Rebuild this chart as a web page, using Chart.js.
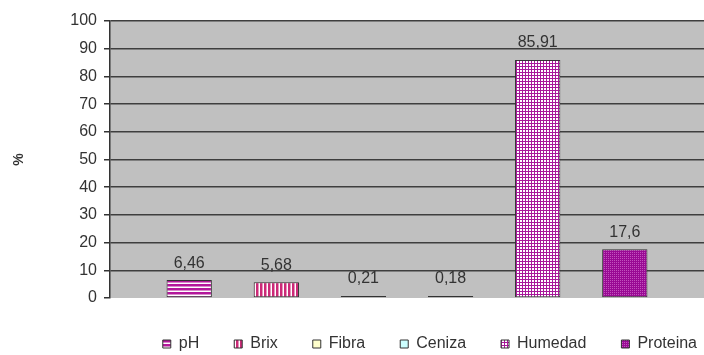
<!DOCTYPE html>
<html>
<head>
<meta charset="utf-8">
<title>Composición</title>
<script src="https://cdn.jsdelivr.net/npm/chart.js@4.4.1/dist/chart.umd.min.js"></script>
<style>
  html, body { margin: 0; padding: 0; background: #ffffff; overflow: hidden; }
  #chart { display: block; }
</style>
</head>
<body>
<canvas id="chart" width="704" height="355"></canvas>
<script>
// Componentes medidos y sus valores (%)
const componentes = ['pH', 'Brix', 'Fibra', 'Ceniza', 'Humedad', 'Proteina'];
const valores = [6.46, 5.68, 0.21, 0.18, 85.91, 17.6];
const ejeY = { min: 0, max: 100, paso: 10 };
const tituloY = '%';

// Tramas de relleno para cada serie
function trama(size, draw) {
  const c = document.createElement('canvas');
  c.width = size; c.height = size;
  const g = c.getContext('2d');
  draw(g, size);
  return g.createPattern(c, 'repeat');
}
const ctx = document.getElementById('chart').getContext('2d');

const rellenos = {
  pH: trama(4, (g, s) => {
    g.fillStyle = '#ffffff'; g.fillRect(0, 0, s, s);
    g.fillStyle = '#b3179b'; g.fillRect(0, 0, s, 2);
    g.fillStyle = '#d98acb'; g.fillRect(0, 2, s, 1);
  }),
  Brix: trama(4, (g, s) => {
    g.fillStyle = '#ffffff'; g.fillRect(0, 0, s, s);
    g.fillStyle = '#cc2a78'; g.fillRect(0, 0, 2, s);
    g.fillStyle = '#e594bb'; g.fillRect(2, 0, 1, s);
  }),
  Fibra: '#ffffcc',
  Ceniza: '#ccffff',
  Humedad: trama(3, (g, s) => {
    g.fillStyle = '#ffffff'; g.fillRect(0, 0, s, s);
    g.fillStyle = '#a8189a'; g.fillRect(0, 0, s, 1); g.fillRect(0, 0, 1, s);
  }),
  Proteina: trama(2, (g, s) => {
    g.fillStyle = '#990a94'; g.fillRect(0, 0, s, s);
    g.fillStyle = '#c253bd'; g.fillRect(0, 0, 1, 1);
  })
};

// Fondo gris del área de trazado
const fondoArea = {
  id: 'fondoArea',
  beforeDraw(chart) {
    const { ctx, chartArea: a } = chart;
    ctx.save();
    ctx.fillStyle = '#c0c0c0';
    ctx.fillRect(a.left, a.top, a.right - a.left, a.bottom - a.top);
    ctx.restore();
  }
};

// Etiquetas de valor sobre cada barra (coma decimal)
const etiquetasValor = {
  id: 'etiquetasValor',
  afterDatasetsDraw(chart) {
    const { ctx } = chart;
    ctx.save();
    ctx.font = '16px "Liberation Sans", Arial, sans-serif';
    ctx.fillStyle = '#333333';
    ctx.textAlign = 'center';
    ctx.textBaseline = 'middle';
    chart.data.datasets.forEach((ds, i) => {
      const el = chart.getDatasetMeta(i).data[0];
      if (!el) return;
      const txt = String(ds.data[0]).replace('.', ',');
      ctx.fillText(txt, el.x, el.y - 17);
    });
    ctx.restore();
  }
};

// Desplaza la leyenda hacia la derecha, bajo el área de trazado
const desplazaLeyenda = {
  id: 'desplazaLeyenda',
  afterLayout(chart, args, opts) {
    if (chart.legend) {
      chart.legend.left += opts.dx || 0;
      chart.legend.right += opts.dx || 0;
    }
  }
};

Chart.defaults.font.family = '"Liberation Sans", Arial, sans-serif';
Chart.defaults.color = '#333333';

new Chart(ctx, {
  type: 'bar',
  data: {
    labels: [''],
    datasets: componentes.map((nombre, i) => ({
      label: nombre,
      data: [valores[i]],
      backgroundColor: rellenos[nombre],
      borderColor: '#333333',
      borderWidth: 1,
      borderSkipped: false,
      minBarLength: 2,
      categoryPercentage: 0.88,
      barPercentage: 0.52
    }))
  },
  options: {
    responsive: false,
    animation: false,
    devicePixelRatio: 1,
    layout: { padding: { top: 21, right: 0, bottom: -7, left: 0 } },
    scales: {
      x: {
        display: true,
        afterFit(scale) { scale.height = 3; },
        ticks: { display: false },
        grid: { display: false, drawTicks: false },
        border: { display: false }
      },
      y: {
        min: ejeY.min,
        max: ejeY.max,
        afterFit(scale) { scale.width = 110; },
        ticks: {
          stepSize: ejeY.paso,
          padding: 7,
          color: '#333333',
          font: { size: 16 }
        },
        grid: {
          color: c => (c.tick && c.tick.value === 0) ? 'rgba(0,0,0,0)' : '#3e3e3e',
          tickColor: '#333333',
          lineWidth: 1.5,
          tickLength: 6
        },
        border: { display: true, color: '#333333', width: 1.5 },
        title: {
          display: true,
          text: tituloY,
          color: '#333333',
          font: { size: 14, weight: 'bold' },
          padding: { top: 11, bottom: 0 }
        }
      }
    },
    plugins: {
      legend: {
        position: 'bottom',
        align: 'end',
        labels: {
          boxWidth: 8,
          boxHeight: 8,
          padding: 35,
          color: '#333333',
          font: { size: 16 }
        }
      },
      desplazaLeyenda: { dx: 28 },
      tooltip: { enabled: false }
    }
  },
  plugins: [fondoArea, etiquetasValor, desplazaLeyenda]
});
</script>
</body>
</html>
